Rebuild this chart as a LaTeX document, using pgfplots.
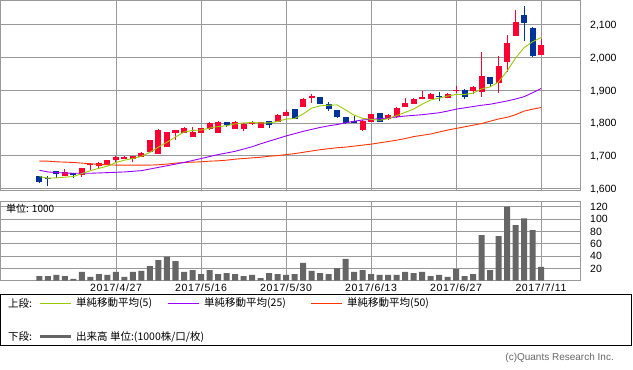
\documentclass[border=0pt]{standalone}
\usepackage{pgfplots}
\pgfplotsset{compat=1.18}
\usepackage{pgfplotstable}
\usepackage{fontspec}
\setmainfont{Liberation Sans}
\newfontfamily\jp{Noto Sans CJK JP}
\newfontfamily\datefont[LetterSpace=6]{Liberation Sans}
\definecolor{upc}{RGB}{255,0,51}
\definecolor{dnc}{RGB}{0,51,153}
\definecolor{ma5}{RGB}{153,204,0}
\definecolor{ma25}{RGB}{153,0,255}
\definecolor{ma50}{RGB}{255,51,0}
\definecolor{gridc}{RGB}{153,153,153}
\definecolor{volc}{RGB}{102,102,102}

\pgfplotstableread{
i O H L C
3 1639 1658 1637 1650
5 1641 1663 1636 1662
6 1671 1676 1656 1675
7 1668 1681 1661 1676
8 1671 1688 1670 1687
9 1687 1698 1680 1697
10 1691 1700 1690 1697
11 1691 1700 1681 1699
12 1697 1712 1696 1709
13 1712 1749 1711 1748
14 1706 1781 1705 1778
15 1727 1772 1726 1771
16 1769 1779 1749 1778
17 1770 1787 1769 1785
18 1758 1788 1757 1772
19 1770 1785 1769 1784
20 1780 1803 1779 1800
21 1770 1806 1769 1804
23 1782 1806 1781 1803
24 1781 1799 1775 1798
25 1798 1807 1795 1804
26 1785 1803 1784 1802
28 1804 1827 1803 1825
29 1822 1839 1821 1834
31 1850 1875 1849 1873
32 1875 1888 1862 1883
38 1778 1808 1776 1807
39 1804 1828 1803 1827
41 1811 1826 1810 1824
42 1817 1848 1816 1847
43 1850 1875 1849 1860
44 1859 1875 1858 1874
45 1873 1898 1872 1880
46 1873 1892 1872 1888
48 1876 1890 1875 1888
49 1900 1913 1890 1901
51 1899 1913 1888 1909
52 1895 2018 1880 1943
54 1921 2005 1892 1974
55 1987 2069 1957 2045
56 2067 2145 2066 2108
59 2008 2058 2007 2038
}\upTable

\pgfplotstableread{
i O H L C
0 1637 1638 1616 1618
1 1632 1638 1607 1628
2 1653 1654 1632 1643
4 1646 1647 1631 1640
22 1803 1804 1786 1794
27 1806 1807 1785 1793
30 1842 1843 1811 1812
33 1878 1879 1857 1858
34 1858 1864 1837 1843
35 1839 1840 1816 1819
36 1817 1818 1796 1799
37 1807 1822 1799 1801
40 1829 1830 1803 1804
47 1883 1895 1866 1878
50 1900 1904 1874 1880
53 1940 1941 1911 1918
57 2130 2159 2051 2106
58 2090 2094 2001 2006
}\dnTable

\pgfplotstableread{
i m5 m25 m50
0 1636 1655 1683
1 1631 1650 1683
2 1632 1648 1681
3 1634 1647 1680
4 1636 1646 1679
5 1645 1646 1677
6 1654 1646 1675
7 1661 1647 1673
8 1668 1648 1672
9 1679 1649 1671
10 1686 1650 1671
11 1691 1652 1671
12 1698 1654 1671
13 1710 1659 1671
14 1726 1664 1672
15 1741 1669 1674
16 1757 1674 1677
17 1772 1679 1679
18 1777 1685 1680
19 1778 1691 1681
20 1784 1697 1683
21 1789 1703 1684
22 1791 1708 1686
23 1797 1713 1689
24 1800 1720 1691
25 1801 1727 1693
26 1800 1736 1695
27 1800 1744 1698
28 1804 1752 1700
29 1812 1760 1703
30 1813 1767 1706
31 1827 1774 1710
32 1845 1780 1714
33 1852 1786 1718
34 1854 1791 1721
35 1855 1795 1724
36 1840 1800 1726
37 1824 1805 1729
38 1814 1809 1732
39 1811 1811 1735
40 1808 1813 1739
41 1813 1815 1743
42 1822 1818 1747
43 1832 1821 1752
44 1842 1823 1758
45 1857 1825 1762
46 1870 1828 1766
47 1876 1831 1772
48 1882 1836 1778
49 1887 1842 1783
50 1887 1846 1788
51 1891 1850 1793
52 1904 1854 1798
53 1910 1857 1805
54 1925 1862 1812
55 1958 1867 1817
56 1998 1873 1825
57 2030 1880 1836
58 2048 1892 1842
59 2061 1905 1847
}\maTable

\pgfplotstableread{
i v
0 7.3
1 7
2 9
3 7
4 2.5
5 14
6 6
7 10.5
8 9
9 14
10 6
11 14
12 15.5
13 23.5
14 33
15 39
16 31.7
17 14
18 17
19 10.5
20 17
21 10.5
22 12
23 10.5
24 7
25 9
26 4
27 12
28 10.5
29 9
30 10.5
31 28.5
32 15.5
33 12
34 10.5
35 20
36 35
37 14
38 17
39 10.5
40 9
41 9
42 9
43 14
44 12
45 14
46 7.3
47 9
48 5.7
49 19
50 7.3
51 10.5
52 74
53 17
54 72
55 120
56 90
57 101
58 82
59 22
}\volTable

\begin{document}
\begin{tikzpicture}
\path[use as bounding box] (0pt,0pt) rectangle (633pt,-370pt);
\pgfplotsset{
  common/.style={
    scale only axis, width=579.5pt, xmin=-4.588, xmax=63.588,
    axis line style={gridc, line width=0.8pt},
    grid=major, major grid style={gridc, line width=0.8pt},
    tick style={draw=none},
    xtick={9,19,29,39,49,59},
    yticklabel pos=right,
    yticklabel style={anchor=west, inner sep=0pt, xshift=10pt, text height=7.7pt, text depth=0pt,
      font=\fontsize{10.5}{12}\selectfont},
    /pgf/number format/.cd, 1000 sep={,}, assume math mode=true,
  },
  candle/.style={draw=none, no markers, forget plot,
    error bars/.cd, y dir=plus, y explicit, error mark=none,
    error bar style={draw=#1, line width=1pt}},
  body/.style={draw=none, no markers, forget plot,
    error bars/.cd, y dir=plus, y explicit, error mark=none,
    error bar style={draw=#1, line width=6pt}},
}
\begin{axis}[common, at={(0.5pt,-0.7pt)}, anchor=north west, height=190pt,
  ymin=1592.66, ymax=2173.7, ytick={1600,1700,1800,1900,2000,2100},
  xticklabels={}]
\addplot[candle=upc] table[x=i, y=L, y error expr=\thisrow{H}-\thisrow{L}] {\upTable};
\addplot[candle=dnc] table[x=i, y=L, y error expr=\thisrow{H}-\thisrow{L}] {\dnTable};
\addplot[body=upc] table[x=i, y=O, y error expr=\thisrow{C}-\thisrow{O}] {\upTable};
\addplot[body=dnc] table[x=i, y=C, y error expr=\thisrow{O}-\thisrow{C}] {\dnTable};
\addplot[ma50, line width=0.9pt, mark=none] table[x=i, y=m50] {\maTable};
\addplot[ma25, line width=0.9pt, mark=none] table[x=i, y=m25] {\maTable};
\addplot[ma5, line width=0.9pt, mark=none] table[x=i, y=m5] {\maTable};
\end{axis}
\begin{axis}[common, at={(0.5pt,-201pt)}, anchor=north west, height=79.5pt,
  ymin=0, ymax=129.3, ytick={20,40,60,80,100,120},
  xticklabels={2017/4/27,2017/5/16,2017/5/30,2017/6/13,2017/6/27,2017/7/11},
  xticklabel style={font=\datefont\fontsize{10.5}{12}\selectfont, inner sep=0pt, yshift=-3pt}]
\addplot[ybar, bar width=6pt, fill=volc, draw=none] table[x=i, y=v] {\volTable};
\end{axis}
\node[anchor=west, inner sep=0pt, font=\jp\fontsize{10}{12}\selectfont] at (6pt,-209pt) {単位: 1000};
\draw[black, line width=0.8pt] (0.5pt,-294.3pt) rectangle (631.5pt,-345.7pt);
\begin{scope}[every node/.style={anchor=west, inner sep=0pt, font=\jp\fontsize{10.5}{12}\selectfont}]
\node at (8pt,-303.3pt) {上段:};
\draw[ma5, line width=1pt] (40pt,-303.7pt) -- (70.7pt,-303.7pt);
\node at (76pt,-303.3pt) {単純移動平均(5)};
\draw[ma25, line width=1pt] (168pt,-303.7pt) -- (199pt,-303.7pt);
\node at (204pt,-303.3pt) {単純移動平均(25)};
\draw[ma50, line width=1pt] (311pt,-303.7pt) -- (342pt,-303.7pt);
\node at (347pt,-303.3pt) {単純移動平均(50)};
\node at (8pt,-336.7pt) {下段:};
\draw[volc, line width=3pt] (40pt,-336.7pt) -- (70.7pt,-336.7pt);
\node at (76pt,-336.7pt) {出来高 単位:(1000株/口/枚)};
\end{scope}
\node[anchor=east, inner sep=0pt, text=volc, font=\fontsize{10}{12}\selectfont] at (614pt,-358.3pt) {(c)Quants Research Inc.};
\end{tikzpicture}
\end{document}
